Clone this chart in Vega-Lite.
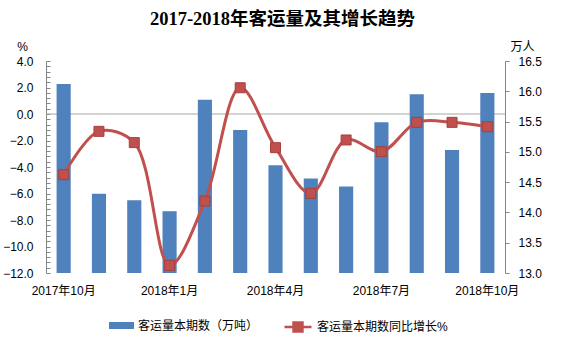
{
  "$schema": "https://vega.github.io/schema/vega-lite/v6.json",
  "width": 459,
  "height": 212,
  "autosize": {"type": "none"},
  "padding": {"left": 46, "top": 61, "right": 60, "bottom": 82},
  "background": "white",
  "config": {"view": {"stroke": null}, "font": "Liberation Sans, Noto Sans CJK SC"},
  "title": {
    "text": "2017-2018年客运量及其增长趋势",
    "font": "Liberation Serif, Noto Sans CJK SC",
    "fontSize": 18.5,
    "fontWeight": "bold",
    "color": "#000000",
    "anchor": "middle",
    "offset": 12,
    "dx": 7
  },
  "data": {
    "values": [
      {"month": "2017年10月", "volume": 16.12, "growth": -4.58},
      {"month": "2017年11月", "volume": 14.31, "growth": -1.31},
      {"month": "2017年12月", "volume": 14.20, "growth": -2.16},
      {"month": "2018年1月", "volume": 14.02, "growth": -11.42},
      {"month": "2018年2月", "volume": 15.86, "growth": -6.57},
      {"month": "2018年3月", "volume": 15.36, "growth": 1.98},
      {"month": "2018年4月", "volume": 14.78, "growth": -2.54},
      {"month": "2018年5月", "volume": 14.56, "growth": -5.99},
      {"month": "2018年6月", "volume": 14.43, "growth": -1.96},
      {"month": "2018年7月", "volume": 15.49, "growth": -2.84},
      {"month": "2018年8月", "volume": 15.95, "growth": -0.63},
      {"month": "2018年9月", "volume": 15.03, "growth": -0.63},
      {"month": "2018年10月", "volume": 15.97, "growth": -0.96}
    ]
  },
  "layer": [
    {
      "data": {"values": [{"ref": 0}]},
      "mark": {"type": "rule", "color": "#A6A6A6", "strokeWidth": 1},
      "encoding": {
        "y": {"field": "ref", "type": "quantitative", "scale": {"domain": [-12, 4], "nice": false, "zero": false}, "axis": null}
      }
    },
    {
      "mark": {"type": "bar"},
      "encoding": {
        "x": {
          "field": "month", "type": "ordinal", "sort": null,
          "scale": {"paddingInner": 0.6, "paddingOuter": 0.3},
          "axis": {
            "title": null,
            "values": ["2017年10月", "2018年1月", "2018年4月", "2018年7月", "2018年10月"],
            "domain": false, "ticks": false, "labelAngle": 0,
            "labelFontSize": 12, "labelColor": "#000000", "labelPadding": 12
          }
        },
        "y": {
          "field": "volume", "type": "quantitative",
          "scale": {"domain": [13, 16.5], "nice": false, "zero": false},
          "axis": {
            "orient": "right", "title": "万人", "titleAngle": 0, "titleX": 17, "titleY": -15,
            "titleAlign": "center", "titleBaseline": "middle", "titleFontWeight": "normal",
            "titleFontSize": 12, "titleColor": "#000000",
            "values": [13, 13.5, 14, 14.5, 15, 15.5, 16, 16.5], "format": ".1f",
            "domainColor": "#868686", "tickColor": "#868686", "tickSize": 4,
            "labelPadding": 9, "labelFontSize": 12, "labelColor": "#000000", "grid": false
          }
        },
        "y2": {"datum": 13},
        "fill": {
          "datum": "客运量本期数（万吨）", "type": "nominal",
          "scale": {"range": ["#4F81BD"]},
          "legend": {
            "title": null, "orient": "none", "legendX": 63, "legendY": 252,
            "direction": "horizontal", "symbolType": "M-1,-0.28H1V0.28H-1Z",
            "symbolSize": 625, "symbolStrokeWidth": 0, "labelFontSize": 12, "labelColor": "#000000",
            "labelOffset": 4, "padding": 0
          }
        }
      }
    },
    {
      "mark": {"type": "line", "interpolate": "catmull-rom", "strokeWidth": 3},
      "encoding": {
        "x": {"field": "month", "type": "ordinal", "sort": null},
        "y": {
          "field": "growth", "type": "quantitative",
          "scale": {"domain": [-12, 4], "nice": false, "zero": false},
          "axis": {
            "orient": "left", "title": "%", "titleAngle": 0, "titleX": -24, "titleY": -15,
            "titleAlign": "center", "titleBaseline": "middle", "titleFontWeight": "normal",
            "titleFontSize": 12, "titleColor": "#000000",
            "values": [-12, -11.6, -11.2, -10.8, -10.4, -10, -9.6, -9.2, -8.8, -8.4, -8, -7.6, -7.2, -6.8, -6.4, -6, -5.6, -5.2, -4.8, -4.4, -4, -3.6, -3.2, -2.8, -2.4, -2, -1.6, -1.2, -0.8, -0.4, 0, 0.4, 0.8, 1.2, 1.6, 2, 2.4, 2.8, 3.2, 3.6, 4],
            "labelExpr": "abs(round(datum.value * 10) % 20) == 0 ? format(datum.value, '.1f') : ''",
            "domainColor": "#868686", "tickColor": "#868686", "tickSize": -4,
            "labelPadding": 17, "labelFontSize": 12, "labelColor": "#000000", "grid": false
          }
        },
        "stroke": {
          "datum": "客运量本期数同比增长%", "type": "nominal",
          "scale": {"range": ["#C0504D"]},
          "legend": {
            "title": null, "orient": "none", "legendX": 237, "legendY": 251,
            "direction": "horizontal", "symbolType": "M-1,0H1M-0.33,-0.33H0.33V0.33H-0.33Z",
            "symbolSize": 729, "symbolStrokeWidth": 2.5, "symbolFillColor": "#C0504D",
            "labelFontSize": 12, "labelColor": "#000000", "labelOffset": 4, "padding": 0
          }
        }
      }
    },
    {
      "mark": {"type": "square", "size": 100, "color": "#C0504D", "filled": true, "opacity": 1, "stroke": "#A5403D", "strokeWidth": 1},
      "encoding": {
        "x": {"field": "month", "type": "ordinal", "sort": null},
        "y": {"field": "growth", "type": "quantitative", "scale": {"domain": [-12, 4], "nice": false, "zero": false}, "axis": null}
      }
    }
  ],
  "resolve": {"scale": {"y": "independent"}}
}
